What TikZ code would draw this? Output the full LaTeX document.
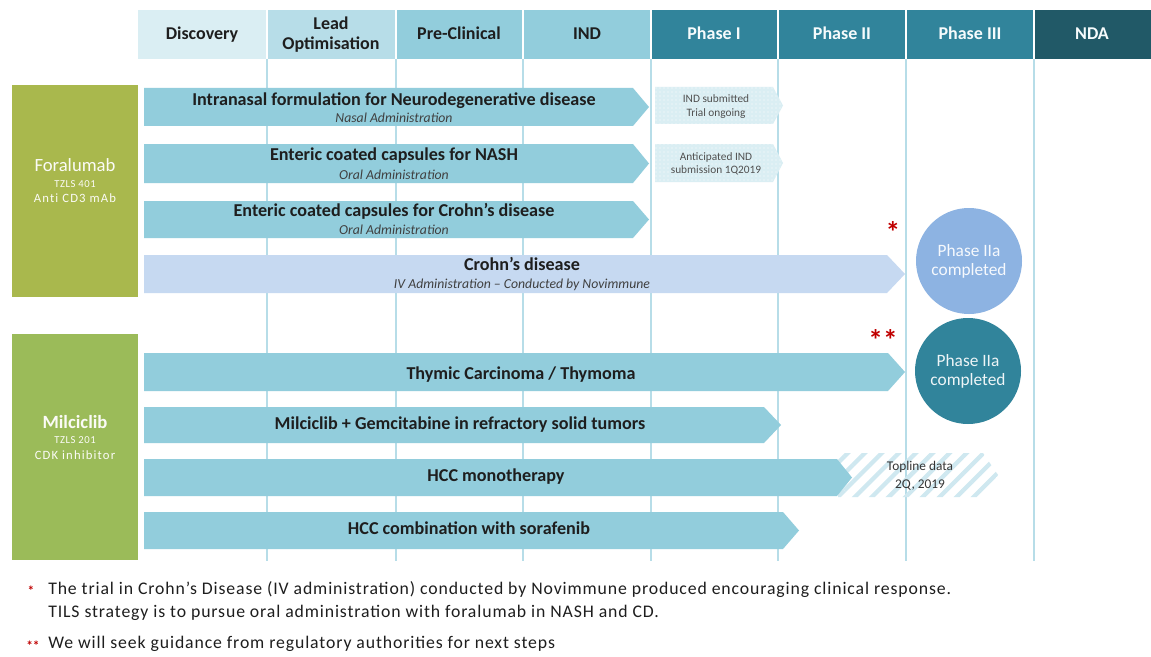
\documentclass[tikz,border=0pt]{standalone}
\usepackage{fontspec}
\setmainfont{Carlito}
\newfontfamily\spaced[LetterSpace=5]{Carlito}
\newfontfamily\widesp[LetterSpace=9,Ligatures=NoCommon]{Carlito}
\usetikzlibrary{patterns,patterns.meta}
\definecolor{hA}{HTML}{DAEEF3}
\definecolor{hB}{HTML}{B7DDE8}
\definecolor{hC}{HTML}{92CDDC}
\definecolor{hD}{HTML}{31849B}
\definecolor{hE}{HTML}{215967}
\definecolor{arrfill}{HTML}{92CDDC}
\definecolor{crohnfill}{HTML}{C6D9F1}
\definecolor{circA}{HTML}{8DB3E2}
\definecolor{circB}{HTML}{31849B}
\definecolor{grnA}{HTML}{A9B84D}
\definecolor{grnB}{HTML}{9BBB59}
\definecolor{gridc}{HTML}{B7DDE8}
\definecolor{dotfill}{HTML}{DAEEF3}
\definecolor{hatchc}{HTML}{CFE8F0}
\definecolor{redc}{HTML}{C00000}
\definecolor{txt}{HTML}{1E1E1E}
\definecolor{smalltxt}{HTML}{505050}
\newcommand\pentashape[6]{\fill[#6] (#1,#3) -- ({#2-#5},#3) -- (#2,{(#3+#4)/2}) -- ({#2-#5},#4) -- (#1,#4) -- cycle;}
\begin{document}
\begin{tikzpicture}[x=0.75pt,y=-0.75pt,
  lbl/.style={inner sep=0pt, text height=1.6ex, text depth=0.4ex, anchor=center},
  hdrtxt/.style={lbl, font=\fontsize{13.5}{15}\selectfont\bfseries, text=txt},
  hdrwhite/.style={lbl, font=\fontsize{13.5}{15}\selectfont\bfseries, text=white!92!hC},
  boldtxt/.style={lbl, font=\fontsize{13.6}{15}\selectfont\bfseries, text=txt},
  itxt/.style={lbl, font=\fontsize{10.3}{12}\selectfont\itshape, text=txt!85},
  tinytxt/.style={lbl, font=\fontsize{8.5}{10}\selectfont, text=smalltxt},
  hatchtxt/.style={lbl, font=\fontsize{10}{12}\selectfont, text=txt!90},
  circtxt/.style={lbl, font=\fontsize{13}{15}\selectfont, text=white!92!circA},
  drugtxt/.style={lbl, font=\fontsize{14}{16}\selectfont, text=white!95!grnA},
  codetxt/.style={lbl, font=\fontsize{8}{9}\selectfont\spaced, text=white!95!grnA},
  desctxt/.style={lbl, font=\fontsize{9.5}{11}\selectfont\widesp, text=white!95!grnA},
  foot/.style={inner sep=0pt, text height=1.6ex, text depth=0.4ex, anchor=west, font=\fontsize{13.3}{15}\selectfont\spaced, text=txt},
  star/.style={inner sep=0pt, anchor=center, font=\fontsize{22}{22}\selectfont\bfseries, text=redc},
  gridline/.style={draw=gridc, line width=1.2pt},
]
\useasboundingbox (0,0) rectangle (1151,656);
\fill[white] (0,0) rectangle (1151,656);

% grid lines
\foreach \gx in {267,396,523,651,778,906,1034}
  \draw[gridline] (\gx,59) -- (\gx,561);

% header cells
\fill[hA] (138,10) rectangle (266,59);
\fill[hB] (268,10) rectangle (395,59);
\fill[hC] (397,10) rectangle (522,59);
\fill[hC] (524,10) rectangle (650,59);
\fill[hD] (652,10) rectangle (777,59);
\fill[hD] (779,10) rectangle (905,59);
\fill[hD] (907,10) rectangle (1033,59);
\fill[hE] (1035,10) rectangle (1151,59);
\node[hdrtxt] (hdisc) at (202,36) {Discovery};
\node[hdrtxt] (hlead1) at (331,26) {Lead};
\node[hdrtxt] (hlead2) at (331,46) {Optimisation};
\node[hdrtxt] (hpre) at (459,36) {Pre-Clinical};
\node[hdrtxt] (hind) at (587,36) {IND};
\node[hdrwhite] (hp1) at (714,36) {Phase I};
\node[hdrwhite] (hp2) at (842,36) {Phase II};
\node[hdrwhite] (hp3) at (970,36) {Phase III};
\node[hdrwhite] (hnda) at (1092,36) {NDA};

% green boxes
\fill[grnA] (12,85) rectangle (138,297);
\node[drugtxt] (fora) at (75,168) {Foralumab};
\node[codetxt] (foracode) at (75,184) {TZLS 401};
\node[desctxt] (foradesc) at (75,199) {Anti CD3 mAb};
\fill[grnB] (12,334) rectangle (138,560);
\node[drugtxt, font=\fontsize{14}{16}\selectfont\bfseries] (milc) at (75,425) {Milciclib};
\node[codetxt] (milccode) at (75,440) {TZLS 201};
\node[desctxt] (milcdesc) at (75,456) {CDK inhibitor};

% dotted follow-on boxes
\pentashape{655}{783}{87}{124}{10}{dotfill}
\pentashape{655}{783}{87}{124}{10}{pattern=dots, pattern color=white}
\node[tinytxt] (d1a) at (716,99) {IND submitted};
\node[tinytxt] (d1b) at (716,113) {Trial ongoing};
\pentashape{655}{783}{144}{182}{10}{dotfill}
\pentashape{655}{783}{144}{182}{10}{pattern=dots, pattern color=white}
\node[tinytxt] (d2a) at (716,157) {Anticipated IND};
\node[tinytxt] (d2b) at (716,170) {submission 1Q2019};

% hatched box
\pentashape{838}{998}{453}{497}{15}{pattern={Lines[angle=45,distance=9pt,line width=3.2pt]}, pattern color=hatchc}
\node[hatchtxt] (h1) at (920,467) {Topline data};
\node[hatchtxt] (h2) at (920,485) {2Q, 2019};

% Foralumab arrows
\pentashape{144}{649}{88}{126}{16}{arrfill}
\node[boldtxt] (a1) at (394,102) {Intranasal formulation for Neurodegenerative disease};
\node[itxt] (a1i) at (394,119) {Nasal Administration};
\pentashape{144}{649}{144}{183}{16}{arrfill}
\node[boldtxt] (a2) at (394,157) {Enteric coated capsules for NASH};
\node[itxt] (a2i) at (394,176) {Oral Administration};
\pentashape{144}{649}{201}{238}{16}{arrfill}
\node[boldtxt] (a3) at (394,213) {Enteric coated capsules for Crohn’s disease};
\node[itxt] (a3i) at (394,231) {Oral Administration};
\pentashape{144}{905}{255}{293}{18}{crohnfill}
\node[boldtxt] (a4) at (522,267) {Crohn’s disease};
\node[itxt] (a4i) at (522,285) {IV Administration – Conducted by Novimmune};

% Milciclib arrows
\pentashape{144}{905}{353}{391}{17}{arrfill}
\node[boldtxt] (b1) at (521,376) {Thymic Carcinoma / Thymoma};
\pentashape{144}{781}{407}{443}{17}{arrfill}
\node[boldtxt] (b2) at (460,426) {Milciclib + Gemcitabine in refractory solid tumors};
\pentashape{144}{852}{459}{496}{15}{arrfill}
\node[boldtxt] (b3) at (496,478) {HCC monotherapy};
\pentashape{144}{799}{512}{549}{16}{arrfill}
\node[boldtxt] (b4) at (469,531) {HCC combination with sorafenib};

% circles
\fill[circA] (969,261) circle (53);
\node[circtxt] (c1a) at (969,253) {Phase IIa};
\node[circtxt] (c1b) at (969,272) {completed};
\fill[circB] (968,371) circle (53);
\node[circtxt, text=white!92!circB] (c2a) at (968,363) {Phase IIa};
\node[circtxt, text=white!92!circB] (c2b) at (968,382) {completed};

% asterisks
\node[star] (s1) at (893,232) {*};
\node[star] (s2) at (883,340) {**};

% footnotes
\node[star, font=\fontsize{10}{10}\selectfont\bfseries] (fs1) at (31,591) {*};
\node[foot] (f1) at (48,591) {The trial in Crohn’s Disease (IV administration) conducted by Novimmune produced encouraging clinical response.};
\node[foot] (f2) at (48,614) {TILS strategy is to pursue oral administration with foralumab in NASH and CD.};
\node[star, font=\fontsize{10}{10}\selectfont\bfseries] (fs2) at (33,646) {**};
\node[foot] (f3) at (48,645) {We will seek guidance from regulatory authorities for next steps};
\end{tikzpicture}
\end{document}
